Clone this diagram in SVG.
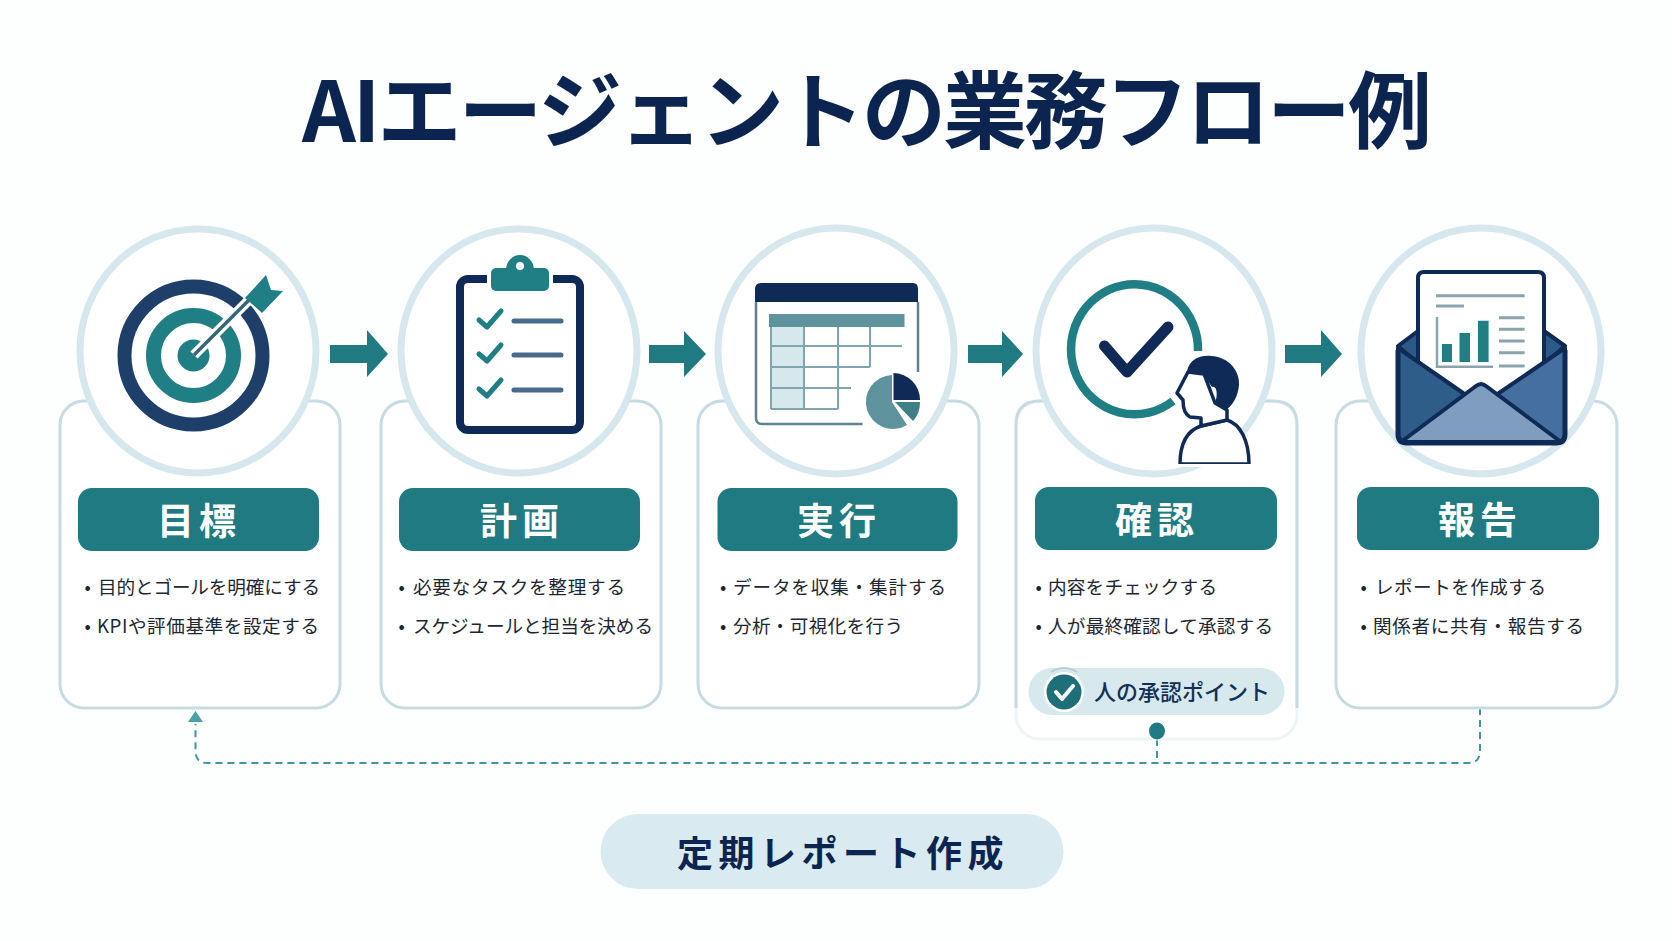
<svg xmlns="http://www.w3.org/2000/svg" width="1672" height="941" viewBox="0 0 1672 941">
<style>
text{font-family:"Noto Sans CJK JP","Noto Sans",sans-serif}
.bg{fill:#fdfefe}
.card{fill:#fff;stroke:#c6dbe2;stroke-width:3}
.ring{fill:#fff;stroke:#d6e8ed;stroke-width:7}
.hdr{fill:#1f7a82}
.lbl{fill:#fff;font-size:37px;font-weight:700;letter-spacing:5px;text-anchor:middle}
.txt{fill:#1c2733;font-size:18.6px}
.dash{fill:none;stroke:#3f969e;stroke-width:2;stroke-dasharray:7 5}
.arrow{fill:#1f7a82}
.navy{fill:#0f2a56}
.nl{fill:none;stroke:#0f2a56;stroke-linecap:round;stroke-linejoin:round}
.tl{fill:none;stroke:#1f7f85;stroke-linecap:round;stroke-linejoin:round}
.grid{fill:none;stroke:#7fa6b0;stroke-width:2}
.env{stroke:#0f2a56;stroke-width:4;stroke-linejoin:round}
</style>
<rect class="bg" width="1672" height="941"/>
<g id="title"><text x="302" y="142" font-size="84" font-weight="700" fill="#0c2550" textLength="1130" lengthAdjust="spacing">AIエージェントの業務フロー例</text></g>
<g id="connectors">
<path class="arrow" d="M330 345H367V330L388 354 367 377V363H330Z"/>
<path class="arrow" d="M649 345H684V331L706 354 684 377V363H649Z"/>
<path class="arrow" d="M968 345H1002V331L1023 354 1002 377V363H968Z"/>
<path class="arrow" d="M1285 345H1321V330L1342 354 1321 377V363H1285Z"/>
<path class="dash" d="M1480 708V751Q1480 763 1468 763H207Q195.500 763 195.500 751V724"/>
<path class="dash" d="M1157 739V763"/>
<path d="M195.500 711L203 722H188Z" fill="#4aa0a8"/>
</g>
<g id="node-goal">
<rect class="card" x="60" y="401" width="280" height="307" rx="24"/>
<ellipse class="ring" cx="198" cy="351" rx="118" ry="122"/>
<circle cx="193.500" cy="355.500" r="69" fill="none" stroke="#1f3f6b" stroke-width="14"/>
<circle cx="193.500" cy="355.500" r="40" fill="none" stroke="#1f7f85" stroke-width="15"/>
<circle cx="193.500" cy="355.500" r="16" fill="#1f7f85"/>
<path d="M194 355L258 291" stroke="#fff" stroke-width="10" fill="none"/>
<path d="M194 355L252 297" stroke="#3c6478" stroke-width="3.500" fill="none"/>
<path d="M245 298L266 275 271 290 283 291 262 313 252 304Z" fill="#1f7f85"/>
<rect class="hdr" x="78" y="488" width="241" height="63" rx="14"/>
<text class="lbl" x="199" y="535">目標</text>
<text class="txt" x="84.500" y="594">•</text><text class="txt" x="98" y="594" textLength="222">目的とゴールを明確にする</text>
<text class="txt" x="84.500" y="633">•</text><text class="txt" x="97" y="633" textLength="222">KPIや評価基準を設定する</text>
</g>
<g id="node-plan">
<rect class="card" x="381" y="401" width="280" height="307" rx="24"/>
<ellipse class="ring" cx="519" cy="351" rx="118" ry="122"/>
<rect x="460" y="279" width="120" height="151" rx="8" fill="#fff" stroke="#0f2a56" stroke-width="8"/>
<rect x="487" y="268" width="66" height="20" fill="#fff"/>
<rect x="491" y="268" width="58" height="23" rx="5" fill="#1f7f85"/>
<path d="M506 270A14 15 0 0 1 534 270Z" fill="#1f7f85"/>
<circle cx="520" cy="266" r="4" fill="#fff"/>
<path class="tl" stroke-width="5" d="M479 320L487 327 501 311M479 354L487 361 501 345M479 389L487 396 501 380"/>
<path d="M514 321H561M514 355H561M514 390H561" stroke="#4a6a8c" stroke-width="5" stroke-linecap="round"/>
<rect class="hdr" x="399" y="488" width="241" height="63" rx="14"/>
<text class="lbl" x="522" y="535">計画</text>
<text class="txt" x="398.500" y="594">•</text><text class="txt" x="413" y="594" textLength="212">必要なタスクを整理する</text>
<text class="txt" x="398.500" y="633">•</text><text class="txt" x="413" y="633" textLength="240">スケジュールと担当を決める</text>
</g>
<g id="node-exec">
<rect class="card" x="698" y="401" width="281" height="307" rx="24"/>
<ellipse class="ring" cx="836" cy="351" rx="118" ry="123"/>
<path d="M756 302V418Q756 424 762 424H862.500M918 302V372" fill="none" stroke="#5f8090" stroke-width="2.500"/>
<path class="navy" d="M755 302V289Q755 283 761 283H913Q918 283 918 289V302Z"/>
<rect x="769" y="314" width="135.500" height="13" fill="#5e929c"/>
<rect x="771" y="327" width="33" height="82" fill="#d6e8ec"/>
<path class="grid" d="M771 346H902M771 367H870M771 388H851M771 409H838M771 327V409M804 327V409M838 327V409M870 327V367"/>
<path d="M892 402V375A27 27 0 1 0 907 425Z" fill="#5e929c"/>
<path class="navy" d="M893.500 400V373A27 27 0 0 1 920 400Z"/>
<path d="M895 402H920A27 27 0 0 1 913 421Z" fill="#3f8088"/>
<rect class="hdr" x="717.500" y="488" width="240" height="63" rx="14"/>
<text class="lbl" x="839" y="535">実行</text>
<text class="txt" x="720" y="594">•</text><text class="txt" x="733" y="594" textLength="213">データを収集・集計する</text>
<text class="txt" x="720" y="633">•</text><text class="txt" x="733" y="633" textLength="170">分析・可視化を行う</text>
</g>
<g id="node-check">
<rect x="1016" y="401" width="281" height="338" rx="24" fill="#fff" stroke="#eef5f7" stroke-width="3"/>
<path d="M1016 708V425Q1016 401 1040 401H1273Q1297 401 1297 425V708" fill="none" stroke="#c6dbe2" stroke-width="3"/>
<ellipse class="ring" cx="1154" cy="351" rx="118" ry="123"/>
<path d="M1198 351A63.500 65 0 1 0 1173 401" fill="none" stroke="#1f7f85" stroke-width="8.500"/>
<path class="nl" stroke-width="11" d="M1104.500 346L1127 372 1168 327"/>
<path d="M1180 464C1180 445 1186 431 1201 426L1227 420C1240 424 1249 440 1249 464Z" fill="#fff" stroke="#0f2a56" stroke-width="3.500" stroke-linejoin="round"/>
<path d="M1201 426V418L1190 417C1184 414 1183 405 1183 400L1177 393 1188 372 1204 374 1215 403 1227 410V420Z" fill="#fff" stroke="#0f2a56" stroke-width="3.500" stroke-linejoin="round"/>
<path d="M1178 465.500H1251" stroke="#fff" stroke-width="3"/>
<path class="navy" d="M1187 371C1190 358 1202 355 1211 356C1230 357 1240 372 1239 385C1238 397 1232 406 1226 410L1215 403C1218 395 1217 385 1212 387 1207 380 1205 376 1204 373 1198 371 1192 373 1187 371Z"/>
<rect class="hdr" x="1035" y="487" width="242" height="63" rx="14"/>
<text class="lbl" x="1157" y="534">確認</text>
<text class="txt" x="1035.500" y="594">•</text><text class="txt" x="1048" y="594" textLength="169">内容をチェックする</text>
<text class="txt" x="1035.500" y="633">•</text><text class="txt" x="1048" y="633" textLength="225">人が最終確認して承認する</text>
<rect x="1028.500" y="668" width="256" height="47" rx="23.500" fill="#d8e9ee"/>
<path d="M1051 672Q1064 664 1077 672" fill="none" stroke="#b9d2d8" stroke-width="2"/>
<circle cx="1064" cy="692" r="20" fill="#fff"/>
<circle cx="1064" cy="692" r="17.500" fill="#1f6f78"/>
<path d="M1056 692L1062 699 1073 686" fill="none" stroke="#fff" stroke-width="4" stroke-linecap="round" stroke-linejoin="round"/>
<text x="1094" y="700" font-size="22" font-weight="500" fill="#10305a">人の承認ポイント</text>
<ellipse cx="1157" cy="731" rx="8" ry="8.500" fill="#1f7a82"/>
</g>
<g id="node-report">
<rect class="card" x="1336" y="401" width="281" height="307" rx="24"/>
<ellipse class="ring" cx="1481" cy="351" rx="120" ry="123"/>
<path class="env" d="M1418 331L1398 346 1420 366ZM1544 331L1565 346 1542 366Z" fill="#2c5a88"/>
<path class="env" d="M1418 366V278Q1418 272 1424 272H1538Q1544 272 1544 278V366L1481 410Z" fill="#fff"/>
<path d="M1436 295.700H1524.600M1436 306H1464" stroke="#8aa3ad" stroke-width="3"/>
<path d="M1437 317V366.700H1493" fill="none" stroke="#8aa3ad" stroke-width="2.500"/>
<path d="M1442 344H1452V362H1442ZM1459.500 333H1470V362H1459.500ZM1478 320.700H1488.600V362H1478Z" fill="#1f7f85"/>
<path d="M1499 317.700H1524.600M1499 329.300H1524.600M1499 341H1524.600M1499 352.700H1524.600M1499 366H1524.600" stroke="#8aa3ad" stroke-width="3"/>
<path class="env" d="M1398 348L1463 393 1481 420 1408 443Q1398 443 1398 434Z" fill="#2f5d8a"/>
<path class="env" d="M1565 348L1499 393 1481 420 1555 443Q1565 443 1565 434Z" fill="#456f9e"/>
<path class="env" d="M1401 442L1476 386Q1481 382 1486 386L1561 442Z" fill="#7f9dbf"/>
<path d="M1398 350V434Q1398 443 1407 443H1556Q1565 443 1565 434V350" fill="none" stroke="#0f2a56" stroke-width="5" stroke-linejoin="round"/>
<rect class="hdr" x="1357" y="487" width="242" height="63" rx="14"/>
<text class="lbl" x="1480" y="534">報告</text>
<text class="txt" x="1360.500" y="594">•</text><text class="txt" x="1375" y="594" textLength="171">レポートを作成する</text>
<text class="txt" x="1360.500" y="633">•</text><text class="txt" x="1373" y="633" textLength="211">関係者に共有・報告する</text>
</g>
<g id="node-periodic">
<rect x="600.500" y="814" width="463" height="75" rx="37.500" fill="#d9ebf0"/>
<text x="677" y="867" font-size="36" font-weight="700" fill="#0c2550" letter-spacing="5.500">定期レポート作成</text>
</g>
</svg>
